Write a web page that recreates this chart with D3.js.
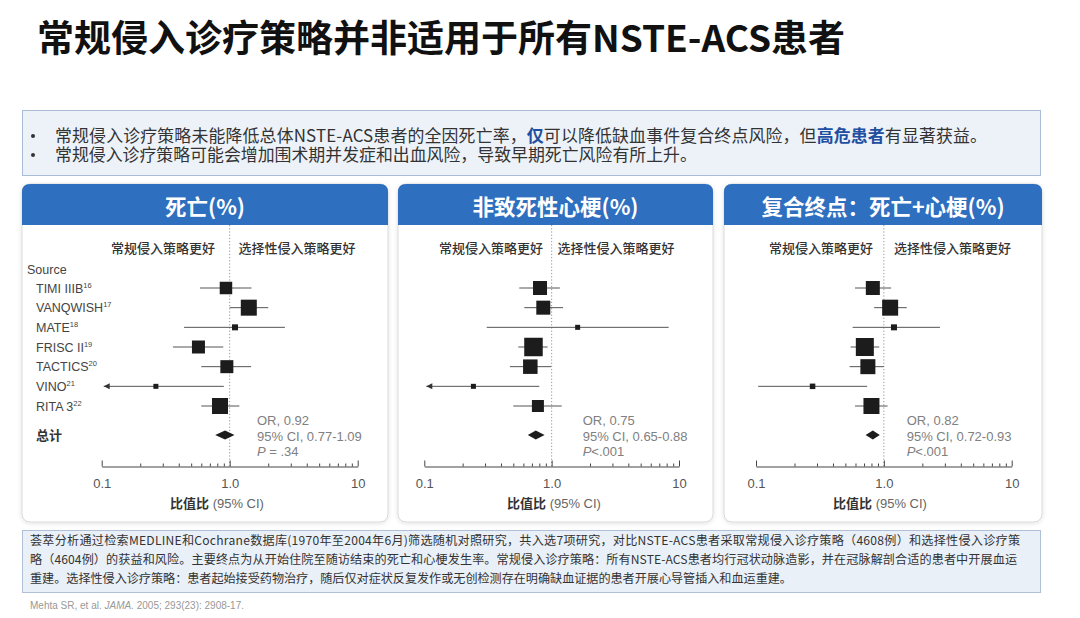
<!DOCTYPE html>
<html><head><meta charset="utf-8">
<script src="https://cdn.jsdelivr.net/npm/d3@7"></script>
<style>body{margin:0;background:#fff;} svg{display:block}</style>
</head><body>
<svg id="c" width="1080" height="618"></svg>
<script>
// ---------------- DATA ----------------
const pageTitle = "常规侵入诊疗策略并非适用于所有NSTE-ACS患者";
const studies = ["TIMI IIIB","VANQWISH","MATE","FRISC II","TACTICS","VINO","RITA 3"];
const refs    = ["16","17","18","19","20","21","22"];
const panelTitles = ["死亡(%)","非致死性心梗(%)","复合终点：死亡+心梗(%)"];

const deathOR = [0.935,1.41,1.10,0.57,0.95,0.265,0.84];
const deathLo = [0.586,1.00,0.44,0.36,0.60,0.08,0.60];
const deathHi = [1.48,2.00,2.70,0.89,1.47,0.90,1.19];
const deathW  = [12.5,16,6,13,13,5,16];

const miOR = [0.81,0.86,1.60,0.72,0.68,0.243,0.78];
const miLo = [0.557,0.61,0.309,0.547,0.47,0.08,0.50];
const miHi = [1.16,1.23,8.3,0.93,0.99,0.80,1.20];
const miW  = [14,14,5,18.5,14.5,5,12];

const compOR = [0.82,1.12,1.20,0.71,0.75,0.277,0.80];
const compLo = [0.595,0.84,0.57,0.55,0.54,0.104,0.595];
const compHi = [1.14,1.51,2.75,0.92,1.00,0.74,1.07];
const compW  = [14,16,6,18,15,5.5,16];

const pooledOR = [0.92,0.75,0.82];
const pooledLo = [0.77,0.65,0.72];
const pooledHi = [1.09,0.88,0.93];
const pText    = [" = .34","<.001","<.001"];

const tickValues = [0.1,1,10];
const tickLabels = ["0.1","1.0","10"];
const minorTicks = [0.2,0.3,0.4,0.5,0.6,0.7,0.8,0.9,2,3,4,5,6,7,8,9];

const bullets = [
  [["常规侵入诊疗策略未能降低总体NSTE-ACS患者的全因死亡率，",0],["仅",1],["可以降低缺血事件复合终点风险，但",0],["高危患者",1],["有显著获益。",0]],
  [["常规侵入诊疗策略可能会增加围术期并发症和出血风险，导致早期死亡风险有所上升。",0]]
];
const footerLines = [
  "荟萃分析通过检索MEDLINE和Cochrane数据库(1970年至2004年6月)筛选随机对照研究，共入选7项研究，对比NSTE-ACS患者采取常规侵入诊疗策略（4608例）和选择性侵入诊疗策",
  "略（4604例）的获益和风险。主要终点为从开始住院至随访结束的死亡和心梗发生率。常规侵入诊疗策略：所有NSTE-ACS患者均行冠状动脉造影，并在冠脉解剖合适的患者中开展血运",
  "重建。选择性侵入诊疗策略：患者起始接受药物治疗，随后仅对症状反复发作或无创检测存在明确缺血证据的患者开展心导管插入和血运重建。"
];
const colHeads = ["常规侵入策略更好","选择性侵入策略更好"];

// ---------------- LAYOUT ----------------
(function(){
const CJK = "'Noto Sans CJK SC','Noto Sans',sans-serif";
const LAT = "'Liberation Sans',Arial,sans-serif";
const svg = d3.select("#c");
const defs = svg.append("defs");
const f = defs.append("filter").attr("id","sh").attr("x","-5%").attr("y","-5%").attr("width","110%").attr("height","110%");
f.append("feDropShadow").attr("dx",0).attr("dy",1).attr("stdDeviation",2).attr("flood-color","#000").attr("flood-opacity",0.12);

// Title
svg.append("text").attr("x",37).attr("y",51.5).attr("font-family",CJK).attr("font-weight",700)
  .attr("font-size",37).attr("fill","#111").text(pageTitle);

// Bullet box
svg.append("rect").attr("x",22.5).attr("y",110.5).attr("width",1018).attr("height",65)
  .attr("fill","#edf2f9").attr("stroke","#a9bcd6");
const bulletLen = [932, null];
bullets.forEach((segs,i)=>{
  const yy = 141.5 + i*19;
  svg.append("circle").attr("cx",33).attr("cy",yy-5.5).attr("r",2).attr("fill","#333");
  const t = svg.append("text").attr("x",55).attr("y",yy).attr("font-family",CJK).attr("font-size",16.9).attr("fill","#333");
  if(bulletLen[i]) t.attr("textLength",bulletLen[i]).attr("lengthAdjust","spacing");
  segs.forEach(s=>t.append("tspan").text(s[0]).attr("fill",s[1]?"#1f4fa0":"#333").attr("font-weight",s[1]?700:400));
});

// Panels
const panels = [
  {box:[22,388], axis:[101.7,357.7], cl:163, cr:297, orX:257, xlab:217, or:deathOR, lo:deathLo, hi:deathHi, w:deathW},
  {box:[398,713], axis:[424.3,679], cl:491, cr:616, orX:582.7, xlab:554, or:miOR, lo:miLo, hi:miHi, w:miW},
  {box:[724,1042], axis:[756,1011.7], cl:821, cr:952.5, orX:906.7, xlab:880, or:compOR, lo:compLo, hi:compHi, w:compW}
];
const pTop=184, pBottom=522, headH=41, axisY=466.5;
const y = d3.scalePoint().domain(studies).range([288,406]);
const totalY = 435;
const size = d3.scaleLinear().domain([0,20]).range([0,20]);

panels.forEach((p,pi)=>{
  const g = svg.append("g");
  const bx=p.box[0], bw=p.box[1]-p.box[0];
  g.append("rect").attr("x",bx).attr("y",pTop).attr("width",bw).attr("height",pBottom-pTop)
    .attr("rx",8).attr("fill","#fff").attr("stroke","#d9d9d9").attr("filter","url(#sh)");
  const r=8;
  g.append("path").attr("fill","#2e6fbf")
    .attr("d",`M${bx},${pTop+headH} V${pTop+r} Q${bx},${pTop} ${bx+r},${pTop} H${bx+bw-r} Q${bx+bw},${pTop} ${bx+bw},${pTop+r} V${pTop+headH} Z`);
  g.append("text").attr("x",bx+bw/2).attr("y",pTop+headH/2+1).attr("text-anchor","middle").attr("dominant-baseline","central")
    .attr("font-family",CJK).attr("font-weight",700).attr("font-size",21.5).attr("fill","#fff").text(panelTitles[pi]);

  const x = d3.scaleLog().domain([0.1,10]).range(p.axis);

  [p.cl,p.cr].forEach((cx,i)=>g.append("text").attr("x",cx).attr("y",247).attr("text-anchor","middle")
    .attr("dominant-baseline","central").attr("font-family",CJK).attr("font-size",13).attr("font-weight",500)
    .attr("fill","#333").text(colHeads[i]));

  g.append("line").attr("x1",x(1)).attr("x2",x(1)).attr("y1",pTop+headH).attr("y2",axisY)
    .attr("stroke","#777").attr("stroke-width",0.8).attr("stroke-dasharray","1.2,2");

  const ax = d3.axisBottom(x).tickValues(tickValues).tickFormat((d,i)=>tickLabels[i])
    .tickSizeInner(-6).tickSizeOuter(0).tickPadding(12);
  const ag = g.append("g").attr("transform",`translate(0,${axisY})`).call(ax);
  ag.select(".domain").attr("stroke","#444");
  ag.selectAll(".tick line").attr("stroke","#444");
  ag.selectAll(".tick text").attr("font-family",LAT).attr("font-size",13).attr("fill","#555");
  const mg = g.append("g").attr("transform",`translate(0,${axisY})`)
    .call(d3.axisBottom(x).tickValues(minorTicks).tickFormat("").tickSizeInner(-3).tickSizeOuter(0));
  mg.select(".domain").remove();
  mg.selectAll(".tick line").attr("stroke","#444");

  const xl = g.append("text").attr("x",p.xlab).attr("y",508).attr("text-anchor","middle");
  xl.append("tspan").text("比值比").attr("font-family",CJK).attr("font-weight",700).attr("font-size",13).attr("fill","#333");
  xl.append("tspan").text(" (95% CI)").attr("font-family",LAT).attr("font-size",13).attr("fill","#666");

  const [dmin] = x.domain();
  studies.forEach((s,i)=>{
    const yy = y(s);
    const lo = Math.max(p.lo[i], dmin);
    const arrow = p.lo[i] < dmin;
    const x1 = arrow ? x(dmin)+2 : x(lo);
    g.append("line").attr("x1",x1).attr("x2",x(p.hi[i])).attr("y1",yy).attr("y2",yy)
      .attr("stroke","#555").attr("stroke-width",1);
    if(arrow){
      g.append("path").attr("d",`M${x1},${yy} L${x1+6},${yy-3} L${x1+6},${yy+3} Z`).attr("fill","#333");
    }
    const sz = size(p.w[i]);
    g.append("rect").attr("x",x(p.or[i])-sz/2).attr("y",yy-sz/2).attr("width",sz).attr("height",sz).attr("fill","#1c1c1c");
  });
  const dh=4.5;
  g.append("path").attr("fill","#1c1c1c")
    .attr("d",`M${x(pooledLo[pi])},${totalY} L${x(pooledOR[pi])},${totalY-dh} L${x(pooledHi[pi])},${totalY} L${x(pooledOR[pi])},${totalY+dh} Z`);

  const ot = [ `OR, ${pooledOR[pi].toFixed(2)}`, `95% CI, ${pooledLo[pi].toFixed(2)}-${pooledHi[pi].toFixed(2)}` ];
  ot.forEach((t,k)=>g.append("text").attr("x",p.orX).attr("y",425+k*15.5).attr("font-family",LAT).attr("font-size",13).attr("fill","#808080").text(t));
  const pt = g.append("text").attr("x",p.orX).attr("y",456).attr("font-family",LAT).attr("font-size",13).attr("fill","#808080");
  pt.append("tspan").text("P").attr("font-style","italic");
  pt.append("tspan").text(pText[pi]);

  if(pi===0){
    g.append("text").attr("x",27).attr("y",274).attr("font-family",LAT).attr("font-size",12.5).attr("fill","#444").text("Source");
    studies.forEach((s,i)=>{
      const t = g.append("text").attr("x",36).attr("y",y(s)+4.5).attr("font-family",LAT).attr("font-size",12.5).attr("fill","#444");
      t.append("tspan").text(s);
      t.append("tspan").text(refs[i]).attr("font-size",7.5).attr("dy",-5);
    });
    g.append("text").attr("x",36).attr("y",totalY+5).attr("font-family",CJK).attr("font-weight",700).attr("font-size",13).attr("fill","#333").text("总计");
  }
});

svg.append("rect").attr("x",22.5).attr("y",530.5).attr("width",1018).attr("height",62)
  .attr("fill","#eaf0f8").attr("stroke","#b0c0d8");
const footerLen = [990, 987, null];
footerLines.forEach((l,i)=>{
  const t = svg.append("text").attr("x",30).attr("y",545+i*19).attr("font-family",CJK)
    .attr("font-size",12.1).attr("fill","#333").text(l);
  if(footerLen[i]) t.attr("textLength",footerLen[i]).attr("lengthAdjust","spacing");
});
const cit = svg.append("text").attr("x",30).attr("y",609).attr("font-family",LAT).attr("font-size",10).attr("fill","#999");
cit.append("tspan").text("Mehta SR, et al. ");
cit.append("tspan").text("JAMA.").attr("font-style","italic");
cit.append("tspan").text(" 2005; 293(23): 2908-17.");
})();
</script>
</body></html>
